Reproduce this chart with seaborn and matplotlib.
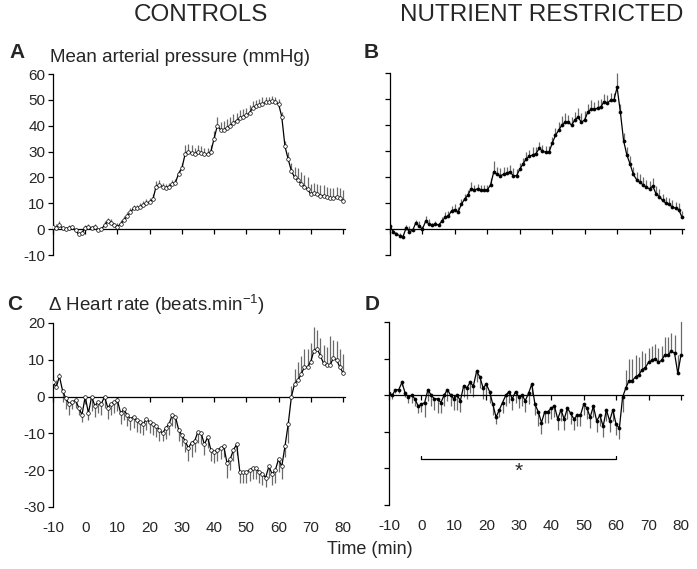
import numpy as np
import matplotlib
matplotlib.use("Agg")
import matplotlib.pyplot as plt
import seaborn as sns

# time axis, 1 min steps
minutes = np.arange(-10, 81)

# mean arterial pressure change (mmHg)
map_controls = [
    1.0, 0.5, 1.5, 0.3, 0.0, 0.5, 0.8, -0.5, -2.0, -1.5,
    0.5, 1.0, 0.3, 1.0, -0.5, 0.0, 1.5, 3.0, 2.5, 1.5,
    1.0, 2.0, 3.5, 5.0, 6.5, 8.0, 8.0, 8.5, 9.5, 10.0,
    10.5, 11.5, 16.5, 17.0, 16.5, 16.0, 16.5, 17.5, 18.0, 21.5,
    23.5, 29.0, 30.0, 29.5, 29.0, 30.0, 29.5, 29.0, 29.0, 30.0,
    35.0, 40.0, 38.5, 38.5, 39.0, 40.0, 41.0, 42.0, 43.0, 43.5,
    44.0, 45.0, 47.0, 47.5, 48.0, 48.5, 49.0, 49.0, 49.5, 49.0,
    48.5, 43.5, 32.0, 27.0, 22.5, 20.0, 19.0, 17.5, 16.5, 15.5,
    13.5, 14.0, 13.5, 13.0, 13.0, 12.5, 12.0, 12.0, 12.5, 12.0,
    11.0]
map_controls_err = [
    2, 1.5, 1.5, 1, 1, 1, 1, 1, 1, 1,
    1, 1, 1, 1, 1, 1, 1.5, 1.5, 1.5, 1,
    1.5, 1.5, 1.5, 1.5, 1.5, 1.5, 1.5, 1.5, 1.5, 1.5,
    1.5, 2, 2, 2, 1.5, 1.5, 1.5, 1.5, 1.5, 1.5,
    2, 3.5, 3, 3, 2.5, 2.5, 2.5, 2.5, 2.5, 2.5,
    3, 3.5, 3, 3.5, 3.5, 3.5, 3.5, 3, 3, 3,
    3, 3, 2.5, 2.5, 2.5, 2.5, 2, 2, 2, 2,
    2, 2, 2, 3, 3, 4, 4.5, 4.5, 4.5, 4.5,
    4, 4, 4, 4, 4, 4, 4, 4, 4, 4,
    4]

map_restricted = [
    1, -1, -2, -2.5, -3, 0.5, -1, -0.5, 2.5, 1,
    0, 3, 2, 1.5, 2, 1.5, 3, 4.5, 5, 7,
    7.5, 6.5, 9.5, 11.5, 13, 15.5, 15, 15.5, 15, 15,
    15, 17, 22, 21, 20.5, 21, 21.5, 22, 20.5, 20.5,
    23, 25, 27, 28, 28.5, 29, 31, 30, 29.5, 29.5,
    33, 36, 38, 40, 41, 41, 40, 42, 43, 41,
    42, 45, 46, 46, 46.5, 47, 49, 48.5, 49.5, 49.5,
    54.5, 45, 34, 28.5, 25, 21, 19, 18, 17, 16,
    15.5, 16.5, 13.5, 12.5, 11, 10, 9.5, 8.5, 8, 7.5,
    4.5]
map_restricted_err = [
    1.5, 1, 1, 1, 1, 1, 2, 1, 1, 2,
    1, 2, 2, 1, 1, 1, 1.5, 2, 2, 2,
    2, 2, 2, 2, 2, 2.5, 2, 2, 2, 2,
    2, 2.5, 4, 3, 3, 3, 2.5, 2.5, 3, 2.5,
    2.5, 2.5, 2.5, 2.5, 3, 2.5, 2.5, 2.5, 2.5, 2.5,
    2.5, 3, 3, 3.5, 3.5, 3, 3, 3, 3.5, 3.5,
    3.5, 3, 3.5, 3, 3, 3, 3, 3, 3, 3,
    5.5, 3, 3, 3, 3, 3, 3, 3, 3, 3,
    3, 3, 3, 3, 2.5, 2.5, 2.5, 2.5, 2.5, 2.5,
    2.5]

# heart rate change (beats/min); error sign = direction of the bar
hr_controls = [
    4, 2.5, 5.5, 1.5, -0.5, -2, -1.5, -1, -3, -5,
    0, -4.5, 0, -2.5, -1.5, -2, 0, -3, -2, -1.5,
    -1, -4.5, -3.5, -5, -6, -5.5, -6.5, -7, -7.5, -6,
    -7, -7.5, -8, -9, -10, -8.5, -7.5, -5, -5.5, -9,
    -10.5, -12, -14, -12.5, -12, -9.5, -10, -13, -11, -14.5,
    -15, -14.5, -14, -13.5, -18, -17, -14.5, -13, -20.5, -20.5,
    -20.5, -20, -19.5, -19.5, -20.5, -21, -22, -19, -21, -20,
    -17, -19, -13.5, -7.5, 0, 3.5, 4.5, 6, 8, 8,
    9.5, 12.5, 13, 11, 9, 8.5, 8.5, 10.5, 10, 8,
    6.5]
hr_controls_err = [
    2, 2, 1, -3, -3, -3, -2, -2, -2, -2,
    -2, -2, -4, -3, -3, -3, -3, -3, -3, -3,
    -3, -3, -3, -3, -3, -3, -3, -3, -3, -3,
    -3, -3, -3, -3, -2, -3, -3, -3, -3, -3,
    -3, -3, -3.5, -4, -3, -3, -3, -3, -3, -3,
    -3, -3, -3, -3, -4, -3, -3, -3, -3, -3,
    -3, -3, -3, -3, -3, -3, -2.5, -3, -3, -3.5,
    -3.5, -3.5, -3, -5, 3, 4, 5, 5, 5, 5,
    5, 6.5, 5, 5, 5, 5, 8, 5, 5, 5,
    5]

hr_restricted = [
    0.5, 0, 1.5, 1.5, 3.5, 0.5, -0.5, 0, -1, -3,
    -2.5, -2, 1.5, 0, -1, -1, -2, 0, 1.5, 0,
    -1, 0, -1.5, 2.5, 2, 3.5, 2.5, 6.5, 5, 2,
    3, 1, -2.5, -6, -4, -2, 0, 1, -1, 1,
    -0.5, 0, -1.5, 0.5, 3, -2.5, -4.5, -7.5, -4.5, -4.5,
    -3.5, -3, -6.5, -4, -6.5, -3.5, -5, -6.5, -5.5, -5.5,
    -2.5, -3.5, -6, -3, -7, -5.5, -8.5, -4, -7, -4,
    -8, -9, -0.5, 2, 4, 4, 5, 5.5, 7, 7.5,
    9, 9.5, 10, 9, 9.5, 11, 11, 12, 11.5, 6,
    11]
hr_restricted_err = [
    -1, -1, -1, -1, -1, -1, -1.5, -2, -2, -2,
    -2, -4, -3, -3, -3, -4, -3, -3, -3, -3,
    -3, -4, -3, -3, -3, -3, -3, -3, -3, -3,
    -3, -3, -3, -2, -2, -3, -3, -3, -3, -3,
    -3, -3, -3, -3, -3, -3, -4, -3, -3, -3,
    -3, -3, -3, -3, -3, -3, -3, -3, -3, -3,
    -3, -3, -3, -3, -3, -3, -3, -3, -3, -3,
    -3, -3, -4, 5, 6, 6, 6, 5, 5, 4,
    4, 4, 4, 4, 4, 5, 5, 5, 5, 5,
    10]

# significance bracket in panel D
sig_start, sig_end, sig_y = 0, 60, -17.4

x_ticks = list(range(-10, 81, 10))

sns.set_style("white")
plt.rcParams["font.family"] = ["Liberation Sans", "DejaVu Sans"]
plt.rcParams["mathtext.default"] = "regular"
plt.rcParams["axes.unicode_minus"] = False

fig = plt.figure(figsize=(6.97, 5.69), dpi=100)

panels = [
    # (rect, values, errors, ylim, open markers, tick labels)
    ([0.0760, 0.5518, 0.4184, 0.3181], map_controls, map_controls_err, (-10, 60), True, True),
    ([0.5595, 0.5518, 0.4213, 0.3199], map_restricted, map_restricted_err, (-10, 60), False, False),
    ([0.0760, 0.1090, 0.4184, 0.3234], hr_controls, hr_controls_err, (-30, 20), True, True),
    ([0.5581, 0.1125, 0.4213, 0.3216], hr_restricted, hr_restricted_err, (-30, 20), False, False),
]

axes = []
for i, (rect, vals, errs, ylim, open_marker, ylabels) in enumerate(panels):
    ax = fig.add_axes(rect)
    vals = np.array(vals, dtype=float)
    errs = np.array(errs, dtype=float)
    ax.vlines(minutes, vals, vals + errs, color="#6a6a6a", lw=0.9, zorder=1)
    sns.lineplot(x=minutes, y=vals, ax=ax, color="black", lw=0.9,
                 marker="o", markersize=2.6 if open_marker else 2.2,
                 markerfacecolor="white" if open_marker else "black",
                 markeredgecolor="black", markeredgewidth=0.5, zorder=3)
    ax.set_xlim(-10, 80.5)
    ax.set_ylim(*ylim)
    ax.set_yticks(np.arange(ylim[0], ylim[1] + 1, 10))
    ax.set_xticks(x_ticks)
    ax.set_xticklabels([])
    for s in ["top", "right"]:
        ax.spines[s].set_visible(False)
    ax.spines["bottom"].set_position(("data", 0))
    for s in ["bottom", "left"]:
        ax.spines[s].set_linewidth(0.9)
        ax.spines[s].set_color("black")
    ax.tick_params(axis="both", direction="out", length=3.6, width=0.9,
                   color="black", labelsize=11, pad=2, bottom=True, left=True)
    ax.set_xlabel("")
    ax.set_ylabel("")
    if not ylabels:
        ax.set_yticklabels([])
    if i >= 2:
        sec = ax.secondary_xaxis("bottom")
        sec.set_xticks(x_ticks)
        sec.tick_params(bottom=True, length=0, labelsize=11, pad=10)
        sec.spines["bottom"].set_visible(False)
    axes.append(ax)

# significance bracket + asterisk in D
axd = axes[3]
axd.plot([sig_start, sig_start, sig_end, sig_end],
         [sig_y + 0.7, sig_y, sig_y, sig_y + 0.7], color="black", lw=0.9)
axd.text((sig_start + sig_end) / 2, sig_y - 3.3, "*", ha="center", va="center", fontsize=15)

# figure text
fig.text(201 / 697, 1 - 15 / 569, "CONTROLS", ha="center", va="center", fontsize=17.5)
fig.text(542 / 697, 1 - 15 / 569, "NUTRIENT RESTRICTED", ha="center", va="center", fontsize=17.5)
fig.text(370 / 697, 1 - 550 / 569, "Time (min)", ha="center", va="center", fontsize=13)

fig.text(50 / 697, 1 - 57 / 569, "Mean arterial pressure (mmHg)", ha="left", va="center", fontsize=13.5)
fig.text(48 / 697, 1 - 305 / 569, "Δ Heart rate (beats.min$^{-1}$)", ha="left", va="center", fontsize=13.5)

for letter, px, py in [("A", 17, 52), ("B", 371, 52), ("C", 15, 305), ("D", 372, 305)]:
    fig.text(px / 697, 1 - py / 569, letter, ha="center", va="center",
             fontsize=15, fontweight="bold")

fig.savefig("out.png", dpi=100)
